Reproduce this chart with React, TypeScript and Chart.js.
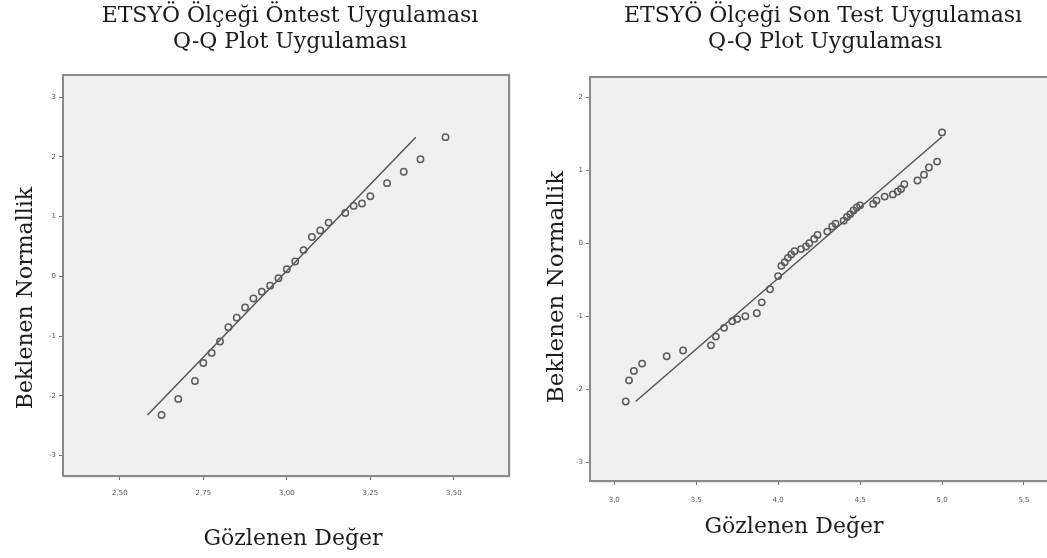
import React, { useEffect, useRef } from "react";
import { Chart, registerables } from "chart.js";

Chart.register(...registerables);

// ---------- Data: pretest (left panel) ----------
const preObserved = [
  2.625, 2.675, 2.725, 2.75, 2.775, 2.8, 2.825, 2.85, 2.875, 2.9, 2.925, 2.95, 2.975, 3.0,
  3.025, 3.05, 3.075, 3.1, 3.125, 3.175, 3.2, 3.225, 3.25, 3.3, 3.35, 3.4, 3.475,
];
const preExpected = [
  -2.32, -2.05, -1.75, -1.45, -1.28, -1.09, -0.85, -0.69, -0.52, -0.37, -0.255, -0.155, -0.03, 0.12,
  0.25, 0.44, 0.66, 0.77, 0.9, 1.06, 1.18, 1.22, 1.34, 1.56, 1.75, 1.96, 2.33,
];
const preLineX = [2.583, 3.386];
const preLineY = [-2.32, 2.33];
const preXTicks = [2.5, 2.75, 3.0, 3.25, 3.5];
const preXTickLabels = ["2,50", "2,75", "3,00", "3,25", "3,50"];
const preYTicks = [-3, -2, -1, 0, 1, 2, 3];
const preYTickLabels = ["-3", "-2", "-1", "0", "1", "2", "3"];

// ---------- Data: post-test (right panel) ----------
const postObserved = [
  3.07, 3.09, 3.12, 3.17, 3.32, 3.42, 3.59, 3.62, 3.67, 3.72, 3.75, 3.8, 3.87, 3.9, 3.95, 4.0,
  4.02, 4.04, 4.06, 4.08, 4.1, 4.14, 4.17, 4.19, 4.22, 4.24, 4.3, 4.33, 4.35, 4.4, 4.42, 4.44,
  4.46, 4.48, 4.5, 4.58, 4.6, 4.65, 4.7, 4.73, 4.75, 4.77, 4.85, 4.89, 4.92, 4.97, 5.0,
];
const postExpected = [
  -2.17, -1.88, -1.75, -1.65, -1.55, -1.47, -1.4, -1.28, -1.16, -1.07, -1.04, -1.0, -0.96, -0.81, -0.63, -0.45,
  -0.31, -0.26, -0.2, -0.155, -0.11, -0.08, -0.045, 0.0, 0.06, 0.115, 0.16, 0.23, 0.27, 0.31, 0.36, 0.4,
  0.45, 0.49, 0.52, 0.54, 0.585, 0.64, 0.67, 0.71, 0.745, 0.81, 0.86, 0.94, 1.04, 1.12, 1.52,
];
const postLineX = [3.13, 5.0];
const postLineY = [-2.17, 1.46];
const postXTicks = [3.0, 3.5, 4.0, 4.5, 5.0, 5.5];
const postXTickLabels = ["3,0", "3,5", "4,0", "4,5", "5,0", "5,5"];
const postYTicks = [-3, -2, -1, 0, 1, 2];
const postYTickLabels = ["-3", "-2", "-1", "0", "1", "2"];

// ---------- Text ----------
const preTitle1 = "ETSYÖ Ölçeği Öntest Uygulaması";
const postTitle1 = "ETSYÖ Ölçeği Son Test Uygulaması";
const title2 = "Q-Q Plot Uygulaması";
const xAxisTitle = "Gözlenen Değer";
const yAxisTitle = "Beklenen Normallik";

type TextItem = { text: string; x: number; y: number; size: number; rotate?: boolean };

const makeTextPlugin = (items: TextItem[]) => ({
  id: "panelText",
  afterDraw(chart: any) {
    const ctx = chart.ctx as CanvasRenderingContext2D;
    for (const it of items) {
      ctx.save();
      ctx.font = `${it.size}px "DejaVu Serif", "Liberation Serif", serif`;
      ctx.fillStyle = "#1c1c1c";
      ctx.textAlign = "center";
      ctx.textBaseline = "alphabetic";
      ctx.translate(it.x, it.y);
      if (it.rotate) ctx.rotate(-Math.PI / 2);
      ctx.fillText(it.text, 0, 0);
      ctx.restore();
    }
  },
});

const framePlugin = {
  id: "plotFrame",
  beforeDraw(chart: any) {
    const { ctx, chartArea: a } = chart;
    ctx.save();
    ctx.shadowColor = "rgba(0,0,0,0.25)";
    ctx.shadowBlur = 2;
    ctx.shadowOffsetX = 1;
    ctx.shadowOffsetY = 1;
    ctx.fillStyle = "#f0f0f0";
    ctx.fillRect(a.left, a.top, a.right - a.left, a.bottom - a.top);
    ctx.restore();
  },
  afterDraw(chart: any) {
    const { ctx, chartArea: a } = chart;
    ctx.save();
    ctx.strokeStyle = "#8a8a8a";
    ctx.lineWidth = 2;
    ctx.strokeRect(a.left, a.top, a.right - a.left, a.bottom - a.top);
    ctx.restore();
  },
};

type PanelCfg = {
  left: number;
  width: number;
  padTop: number;
  padRight: number;
  yWidth: number;
  xHeight: number;
  xMin: number;
  xMax: number;
  yMin: number;
  yMax: number;
  observed: number[];
  expected: number[];
  lineX: number[];
  lineY: number[];
  xTicks: number[];
  xTickLabels: string[];
  yTicks: number[];
  yTickLabels: string[];
  xLabelPad: number;
  texts: TextItem[];
};

const panels: PanelCfg[] = [
  {
    left: 0,
    width: 520,
    padTop: 75,
    padRight: 11,
    yWidth: 63,
    xHeight: 82,
    xMin: 2.33,
    xMax: 3.665,
    yMin: -3.34,
    yMax: 3.37,
    observed: preObserved,
    expected: preExpected,
    lineX: preLineX,
    lineY: preLineY,
    xTicks: preXTicks,
    xTickLabels: preXTickLabels,
    yTicks: preYTicks,
    yTickLabels: preYTickLabels,
    xLabelPad: 9,
    texts: [
      { text: preTitle1, x: 290, y: 22, size: 22 },
      { text: title2, x: 290, y: 48, size: 22 },
      { text: xAxisTitle, x: 293, y: 545, size: 22 },
      { text: yAxisTitle, x: 32, y: 298, size: 22, rotate: true },
    ],
  },
  {
    left: 520,
    width: 540,
    padTop: 77,
    padRight: 8,
    yWidth: 70,
    xHeight: 77,
    xMin: 2.852,
    xMax: 5.671,
    yMin: -3.26,
    yMax: 2.28,
    observed: postObserved,
    expected: postExpected,
    lineX: postLineX,
    lineY: postLineY,
    xTicks: postXTicks,
    xTickLabels: postXTickLabels,
    yTicks: postYTicks,
    yTickLabels: postYTickLabels,
    xLabelPad: 11,
    texts: [
      { text: postTitle1, x: 303, y: 22, size: 22 },
      { text: title2, x: 305, y: 48, size: 22 },
      { text: xAxisTitle, x: 274, y: 533, size: 22 },
      { text: yAxisTitle, x: 43, y: 287, size: 23, rotate: true },
    ],
  },
];

function QQPanel({ cfg }: { cfg: PanelCfg }) {
  const ref = useRef<HTMLCanvasElement>(null);
  useEffect(() => {
    if (!ref.current) return;
    const tickFont = { family: '"DejaVu Sans", sans-serif', size: 7 };
    const chart = new Chart(ref.current, {
      type: "scatter",
      data: {
        datasets: [
          {
            data: cfg.lineX.map((x, i) => ({ x, y: cfg.lineY[i] })),
            showLine: true,
            borderColor: "#555555",
            borderWidth: 1.5,
            pointRadius: 0,
            order: 2,
          },
          {
            data: cfg.observed.map((x, i) => ({ x, y: cfg.expected[i] })),
            pointStyle: "circle",
            pointRadius: 3.2,
            borderColor: "#5c5c5c",
            borderWidth: 1.5,
            backgroundColor: "rgba(0,0,0,0)",
            order: 1,
          },
        ],
      },
      options: {
        responsive: false,
        animation: false,
        devicePixelRatio: 1,
        layout: { padding: { top: cfg.padTop, right: cfg.padRight, left: 0, bottom: 0 } },
        plugins: {
          legend: { display: false },
          tooltip: { enabled: false },
          title: { display: false },
        },
        scales: {
          x: {
            type: "linear",
            min: cfg.xMin,
            max: cfg.xMax,
            afterBuildTicks: (s: any) => {
              s.ticks = cfg.xTicks.map((v) => ({ value: v }));
            },
            afterFit: (s: any) => {
              s.height = cfg.xHeight;
            },
            border: { display: false },
            grid: { drawOnChartArea: false, drawTicks: true, tickLength: 4, color: "#707070" },
            ticks: {
              autoSkip: false,
              maxRotation: 0,
              padding: cfg.xLabelPad,
              font: tickFont,
              color: "#555555",
              callback: (v: any) => {
                const i = cfg.xTicks.findIndex((t) => Math.abs(t - Number(v)) < 1e-6);
                return i >= 0 ? cfg.xTickLabels[i] : "";
              },
            },
          },
          y: {
            type: "linear",
            min: cfg.yMin,
            max: cfg.yMax,
            afterBuildTicks: (s: any) => {
              s.ticks = cfg.yTicks.map((v) => ({ value: v }));
            },
            afterFit: (s: any) => {
              s.width = cfg.yWidth;
            },
            border: { display: false },
            grid: { drawOnChartArea: false, drawTicks: true, tickLength: 4, color: "#707070" },
            ticks: {
              autoSkip: false,
              padding: 3,
              font: tickFont,
              color: "#555555",
              callback: (v: any) => {
                const i = cfg.yTicks.findIndex((t) => Math.abs(t - Number(v)) < 1e-6);
                return i >= 0 ? cfg.yTickLabels[i] : "";
              },
            },
          },
        },
      },
      plugins: [framePlugin, makeTextPlugin(cfg.texts)],
    } as any);
    return () => chart.destroy();
  }, [cfg]);
  return (
    <canvas
      ref={ref}
      width={cfg.width}
      height={558}
      style={{ position: "absolute", left: cfg.left, top: 0, width: cfg.width, height: 558 }}
    />
  );
}

export default function App() {
  return (
    <div
      style={{
        position: "fixed",
        left: 0,
        top: 0,
        width: 1047,
        height: 558,
        overflow: "hidden",
        background: "#ffffff",
      }}
    >
      {panels.map((p, i) => (
        <QQPanel key={i} cfg={p} />
      ))}
    </div>
  );
}
